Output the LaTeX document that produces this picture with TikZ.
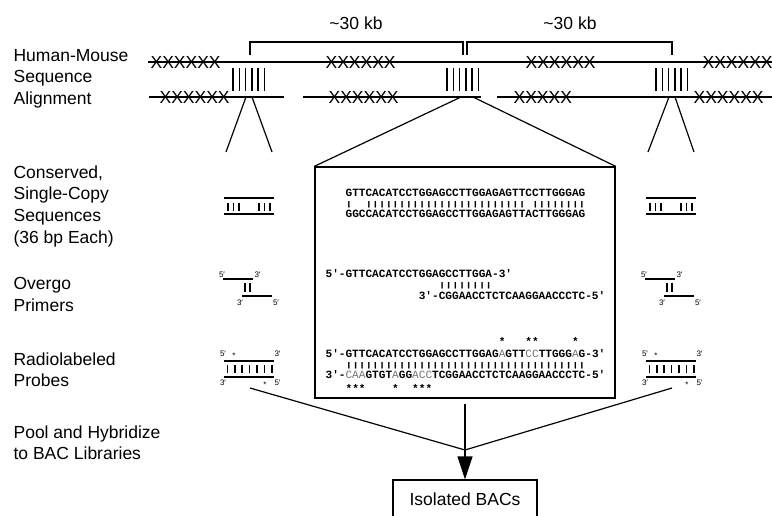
\documentclass[tikz,border=0pt]{standalone}
\usepackage{fontspec}
\usepackage{graphicx}
\setmainfont{Liberation Sans}
\setmonofont{Liberation Mono}
\usetikzlibrary{arrows.meta}
\newcommand\lite[1]{{\mdseries\color{black!55}#1}}
\newcommand\pairs[1]{\scalebox{1}[0.62]{#1}}
\tikzset{
  lbl/.style={anchor=north west, inner sep=0, align=left, font=\fontsize{17.5}{21.7}\selectfont},
  xrun/.style={anchor=west, inner sep=0, font=\fontsize{17.5}{20}\selectfont},
  seq/.style={anchor=base west, inner sep=0, font=\fontsize{11.1}{12}\selectfont\ttfamily\bfseries},
  prime/.style={inner sep=0, font=\fontsize{8}{9}\selectfont},
  strand/.style={line width=1.5pt},
  rung/.style={line width=1.6pt}
}

\begin{document}
\begin{tikzpicture}[x=1pt, y=-1pt, line width=1.2pt]
\useasboundingbox (0,0) rectangle (772,515);

% row labels
\node[lbl] (lblAlign) at (13,48.5) {Human-Mouse\\Sequence\\Alignment};
\node[lbl] (lblCons) at (13,165) {Conserved,\\Single-Copy\\Sequences\\(36 bp Each)};
\node[lbl] (lblOver) at (13,277) {Overgo\\Primers};
\node[lbl] (lblProbe) at (13,352) {Radiolabeled\\Probes};
\node[lbl] (lblPool) at (13,425) {Pool and Hybridize\\to BAC Libraries};

% human and mouse genomic lines
\draw (148,62) -- (772,62);
\draw (149,97) -- (283.5,97) (303,97) -- (481,97) (497,97) -- (772,97);
\foreach \x [count=\i] in {150,325,525,702}
  \node[xrun] (xtop\i) at (\x,62.5) {XXXXXX};
\foreach \x/\t [count=\i] in {159/XXXXXX,328/XXXXXX,513/XXXXX,693/XXXXXX}
  \node[xrun] (xbot\i) at (\x,97.5) {\t};
\foreach \x in {233,447,656}
  \foreach \k in {0,...,5}
    \draw[rung] (\x+\k*6.3,68) -- (\x+\k*6.3,91);

% spacing brackets
\node[xrun, anchor=center] (kbA) at (356,23) {\textasciitilde30 kb};
\node[xrun, anchor=center] (kbB) at (570,23) {\textasciitilde30 kb};
\draw (250,55) |- (463,42) -- (463,55);
\draw (467,55) |- (672,42) -- (672,55);

% zoom-in box
\node[draw, line width=1.3pt, minimum width=300pt, minimum height=231pt, inner sep=0] (box) at (465,282.5) {};
\coordinate (zoomM1) at (461,97);
\coordinate (zoomM2) at (473,97);
\draw (zoomM1) -- (box.north west);
\draw (zoomM2) -- (box.north east);

\node[seq] (hum) at (345,196.6) {GTTCACATCCTGGAGCCTTGGAGAGTTCCTTGGGAG};
\node[seq] (consBars) at (345,206) {\pairs{|~~||||||||||||||||||||||||~||||||||}};
\node[seq] (mus) at (345,217.4) {GGCCACATCCTGGAGCCTTGGAGAGTTACTTGGGAG};

\node[seq] (oligoA) at (325,277.6) {5′-GTTCACATCCTGGAGCCTTGGA-3′};
\node[seq] (oligoBars) at (438.2,287.2) {\pairs{||||||||}};
\node[seq] (oligoB) at (418.2,299.6) {3′-CGGAACCTCTCAAGGAACCCTC-5′};

\node[seq] (starA) at (498.2,345) {*~~~**~~~~~*};
\node[seq] (probeA) at (325,357.4) {5′-GTTCACATCCTGGAGCCTTGGAG\lite{A}GTT\lite{CC}TTGGG\lite{A}G-3′};
\node[seq] (probeBars) at (345,367) {\pairs{||||||||||||||||||||||||||||||||||||}};
\node[seq] (probeB) at (325,378.6) {3′-\lite{CAA}GTGT\lite{A}GG\lite{ACC}TCGGAACCTCTCAAGGAACCCTC-5′};
\node[seq] (starB) at (345,392.4) {***~~~~*~~***};

% flanking sites, same sketch on both sides
\foreach \sx/\sd/\zx in {224/L/249,646/R/672} {
  \coordinate (zoom\sd1) at (\zx-3,97);
  \coordinate (zoom\sd2) at (\zx+3,97);
  \coordinate (cons\sd1) at (\sx+2,152);
  \coordinate (cons\sd2) at (\sx+48,152);
  \draw (zoom\sd1) -- (cons\sd1);
  \draw (zoom\sd2) -- (cons\sd2);
  % conserved
  \draw[strand] (\sx,198) -- ++(50,0);
  \draw[strand] (\sx,214) -- ++(50,0);
  \foreach \bx in {4,9.5,15,35,40.5,46}
    \draw[rung] (\sx+\bx,203) -- ++(0,8);
  % overgo
  \draw[strand] (\sx-1,279) -- ++(30,0);
  \foreach \bx in {21,26}
    \draw[rung] (\sx+\bx,283) -- ++(0,9);
  \draw[strand] (\sx+18,296) -- ++(30,0);
  \node[prime] (ov5\sd) at (\sx-2,275) {5′};
  \node[prime] (ov3\sd) at (\sx+33.5,275) {3′};
  \node[prime] (ow3\sd) at (\sx+16,302.5) {3′};
  \node[prime] (ow5\sd) at (\sx+52,302.5) {5′};
  % probe
  \draw[strand] (\sx,361) -- ++(50,0);
  \draw[strand] (\sx,377) -- ++(50,0);
  \foreach \k in {0,...,6}
    \draw[rung] (\sx+3.3+\k*7.4,365) -- ++(0,8);
  \node[prime] (pr5\sd) at (\sx-1,354) {5′};
  \node[prime] (prs\sd) at (\sx+10,356) {*};
  \node[prime] (pr3\sd) at (\sx+53.5,354) {3′};
  \node[prime] (pq3\sd) at (\sx-1,383) {3′};
  \node[prime] (pqs\sd) at (\sx+41,385) {*};
  \node[prime] (pq5\sd) at (\sx+53.5,383) {5′};
  \coordinate (tail\sd) at (\sx+26,388);
}

% pooling
\coordinate (join) at (465,450);
\draw (tailL) -- (join) -- (tailR);
\node[draw, line width=1.2pt, minimum width=144pt, minimum height=38pt, inner sep=0,
  font=\fontsize{17.5}{20}\selectfont] (bacs) at (465,499) {Isolated BACs};
\draw[-{Triangle[length=23pt,width=15pt]}] ([yshift=-5pt]box.south) -- (bacs.north);
\end{tikzpicture}
\end{document}
